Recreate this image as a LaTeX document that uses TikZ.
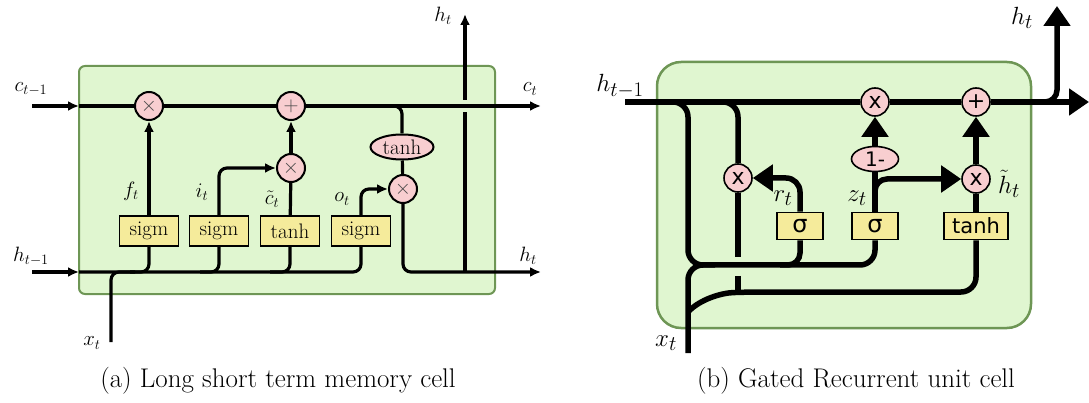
\documentclass[tikz,border=0pt]{standalone}
\usepackage{fontspec}
\newfontfamily\gsans{DejaVu Sans}
\usetikzlibrary{arrows.meta,shapes.geometric,calc}
\definecolor{cellgreen}{RGB}{224,246,208}
\definecolor{cellborder}{RGB}{110,150,85}
\definecolor{opink}{RGB}{248,206,208}
\definecolor{gyellow}{RGB}{245,235,155}
\definecolor{symgray}{RGB}{70,70,70}
\begin{document}
\begin{tikzpicture}[x=1pt,y=-1pt,
  lline/.style={line width=3.2pt},
  rline/.style={line width=5.5pt},
  lhead/.style={-{Latex[length=11pt,width=10pt]}},
  rhead/.style={-{Triangle[length=20pt,width=26pt]}},
  lop/.style={circle,draw,line width=2pt,fill=opink,minimum size=28pt,inner sep=0pt,font=\fontsize{20}{24}\selectfont,text=symgray},
  lell/.style={ellipse,draw,line width=2pt,fill=opink,minimum width=63pt,minimum height=25pt,inner sep=0pt,font=\fontsize{21}{24}\selectfont},
  lbox/.style={rectangle,draw,line width=1.6pt,fill=gyellow,minimum width=59pt,minimum height=30pt,inner sep=0pt,font=\fontsize{21}{24}\selectfont},
  llab/.style={inner sep=0pt,font=\fontsize{22}{26}\selectfont},
  rop/.style={circle,draw,line width=1.6pt,fill=opink,minimum size=28pt,inner sep=0pt,font=\gsans\fontsize{22}{26}\selectfont},
  rell/.style={ellipse,draw,line width=1.6pt,fill=opink,minimum width=47pt,minimum height=25pt,inner sep=0pt,font=\gsans\fontsize{20}{24}\selectfont},
  rbox/.style={rectangle,draw,line width=1.6pt,fill=gyellow,minimum width=46pt,minimum height=27pt,inner sep=0pt,font=\gsans\fontsize{24}{26}\selectfont},
  rlab/.style={inner sep=0pt,font=\fontsize{28}{32}\selectfont},
  captext/.style={inner sep=0pt,font=\fontsize{27}{31}\selectfont}]
\useasboundingbox (0,0) rectangle (1089,403);

% ================= (a) LSTM =================
\draw[fill=cellgreen,draw=cellborder,line width=2pt,rounded corners=6pt] (79,66) rectangle (495,294);

\node[lop] (m1) at (149,106) {$\times$};
\node[lop] (pl) at (291,106) {$+$};
\node[lop] (m2) at (291,168) {$\times$};
\node[lop] (m3) at (403,189) {$\times$};
\node[lell] (th) at (402,147) {tanh};
\node[lbox] (s1) at (149,231) {sigm};
\node[lbox] (s2) at (219,231) {sigm};
\node[lbox] (t1) at (290,231) {tanh};
\node[lbox] (s4) at (361,231) {sigm};

\coordinate (cin) at (32,106);
\coordinate (cL) at (79,106);
\coordinate (cout) at (541,106);
\coordinate (hin) at (32,272);
\coordinate (hL) at (79,272);
\coordinate (hout) at (541,272);
\coordinate (vb) at (465,272);
\coordinate (vg1) at (465,112);
\coordinate (vg2) at (465,100);
\coordinate (vtop) at (465,14);
\coordinate (j1) at (130,272);
\coordinate (j2) at (200,272);
\coordinate (j3) at (270,272);
\coordinate (xin) at (111,342);
\coordinate (xj) at (135,272);

\draw[lline] (vb) -- (vg1);
\draw[lline,lhead] (vg2) -- (vtop);

\draw[lline,lhead] (cin) -- (cL);
\draw[lline] (cL) -- (m1);
\draw[lline] (m1) -- (pl);
\draw[lline,lhead] (pl) -- (cout);
\draw[lline,rounded corners=8pt] (pl) -| (th);
\draw[lline] (th) -- (m3);
\draw[lline,rounded corners=8pt,lhead] (m3) |- (hout);

\draw[lline,lhead] (s1) -- (m1);
\draw[lline,rounded corners=8pt,lhead] (s2) |- (m2);
\draw[lline] (t1) -- (m2);
\draw[lline,lhead] (m2) -- (pl);
\draw[lline,rounded corners=8pt,lhead] (s4) |- (m3);

\draw[lline,lhead] (hin) -- (hL);
\draw[lline,rounded corners=8pt] (hL) -| (s4);
\draw[lline,rounded corners=8pt] (s1) |- (j1);
\draw[lline,rounded corners=8pt] (s2) |- (j2);
\draw[lline,rounded corners=8pt] (t1) |- (j3);
\draw[lline,rounded corners=8pt] (xin) |- (xj);

\node[llab] (lft) at (131,191) {$f_t$};
\node[llab] (lit) at (202,192) {$i_t$};
\node[llab] (lct) at (272,199) {$\tilde{c}_t$};
\node[llab] (lot) at (342,199) {$o_t$};
\node[llab] (lcin) at (31,89) {$c_{t-1}$};
\node[llab] (lhin) at (31,256) {$h_{t-1}$};
\node[llab] (lcout) at (530,89) {$c_t$};
\node[llab] (lhout) at (528,256) {$h_t$};
\node[llab] (lhtop) at (443,16) {$h_t$};
\node[llab] (lxt) at (92,343) {$x_t$};

% ================= (b) GRU =================
\draw[fill=cellgreen,draw=cellborder,line width=2.5pt,rounded corners=24pt] (657,62) rectangle (1031,328);

\node[rop] (rz) at (875,102) {x};
\node[rop] (rp) at (976,102) {+};
\node[rop] (rr) at (738,178) {x};
\node[rop] (rh) at (976,179) {x};
\node[rell] (om) at (875,159) {1-};
\node[rbox] (g1) at (800,226) {σ};
\node[rbox] (g2) at (875,226) {σ};
\node[rbox,minimum width=64pt,font=\gsans\fontsize{21}{24}\selectfont] (gt) at (976,226) {tanh};

\coordinate (hin2) at (625,102);
\coordinate (hout2) at (1089,102);
\coordinate (hb) at (1036,102);
\coordinate (hup) at (1057,6);
\coordinate (b1s) at (666,102);
\coordinate (b1c) at (688,265);
\coordinate (j5) at (780,265);
\coordinate (xin2) at (688,353);
\coordinate (j6) at (715,265);
\coordinate (b2s) at (712,102);
\coordinate (ga) at (738,257);
\coordinate (gb) at (738,276);
\coordinate (gc) at (738,293);
\coordinate (xj2) at (688,312);
\coordinate (k1) at (748,292);
\coordinate (zb) at (875,205);

\draw[rline] (hin2) -- (rz);
\draw[rline] (rz) -- (rp);
\draw[rline,rhead] (rp) -- (hout2);
\draw[rline,rounded corners=12pt,rhead] (hb) -| (hup);

\draw[rline,rounded corners=15pt] (b1s) -| (b1c) -| (g2);
\draw[rline,rounded corners=12pt] (g1) |- (j5);
\draw[rline,rounded corners=15pt] (xin2) |- (j6);
\draw[rline,rounded corners=15pt] (b2s) -| (rr);
\draw[rline] (rr) -- (ga);
\draw[rline] (gb) -- (gc);
\draw[rline,rounded corners=15pt] (xj2) .. controls (700,299) and (722,293) .. (k1) -| (gt);

\draw[rline,rounded corners=14pt,rhead] (g1) |- (rr);
\draw[rline] (g2) -- (om);
\draw[rline,rhead] (om) -- (rz);
\draw[rline,rounded corners=12pt,rhead] (zb) |- (rh);
\draw[rline] (gt) -- (rh);
\draw[rline,rhead] (rh) -- (rp);

\node[rlab] (rlhin) at (620,86) {$h_{t-1}$};
\node[rlab] (rlht) at (1022,18) {$h_t$};
\node[rlab] (rlrt) at (783,198) {$r_t$};
\node[rlab] (rlzt) at (857,198) {$z_t$};
\node[rlab] (rlhtt) at (1009,184) {$\tilde{h}_t$};
\node[rlab] (rlxt) at (666,343) {$x_t$};

% ================= captions =================
\node[captext] (capa) at (278,381) {(a) Long short term memory cell};
\node[captext] (capb) at (856,381) {(b) Gated Recurrent unit cell};
\end{tikzpicture}
\end{document}
